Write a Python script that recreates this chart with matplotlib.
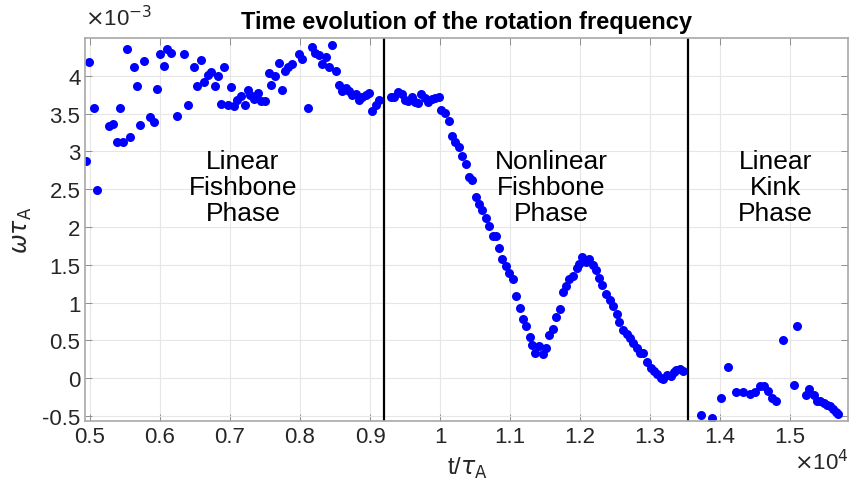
import matplotlib
matplotlib.use('Agg')
import matplotlib.pyplot as plt
from matplotlib.ticker import FormatStrFormatter

plt.rcParams['font.family'] = ['Liberation Sans', 'DejaVu Sans']
plt.rcParams['mathtext.fontset'] = 'dejavusans'

# time in units of 1e4 tau_A, omega*tau_A in units of 1e-3
t_data = [0.4943, 0.499, 0.505, 0.5095, 0.5276, 0.533, 0.538, 0.543, 0.5476, 0.553,
          0.5576, 0.5624, 0.567, 0.572, 0.577, 0.586, 0.591, 0.596, 0.6005, 0.6057,
          0.6104, 0.615, 0.6247, 0.6347, 0.6395, 0.6486, 0.653, 0.658, 0.663, 0.668,
          0.673, 0.678, 0.683, 0.6867, 0.692, 0.697, 0.702, 0.706, 0.7105, 0.716,
          0.721, 0.725, 0.729, 0.734, 0.7396, 0.744, 0.75, 0.755, 0.759, 0.764,
          0.7696, 0.774, 0.779, 0.783, 0.788, 0.7986, 0.8024, 0.812, 0.817, 0.821,
          0.827, 0.8314, 0.8367, 0.841, 0.846, 0.851, 0.8553, 0.8596, 0.8657, 0.870,
          0.8743, 0.8796, 0.8843, 0.8886, 0.894, 0.899, 0.903, 0.908, 0.913,
          0.930, 0.9343, 0.9396, 0.945, 0.950, 0.954, 0.9596, 0.964, 0.969, 0.973,
          0.978, 0.983, 0.9886, 0.993, 0.998, 1.002, 1.007, 1.013, 1.017, 1.022,
          1.027, 1.031, 1.0367, 1.041, 1.046, 1.0514, 1.055, 1.0596, 1.0657, 1.0704,
          1.076, 1.0804, 1.0843, 1.089, 1.094, 1.099, 1.104, 1.1086, 1.114, 1.118,
          1.1224, 1.128, 1.132, 1.136, 1.141, 1.1467, 1.152, 1.156, 1.161, 1.166,
          1.171, 1.175, 1.18, 1.184, 1.19, 1.195, 1.199, 1.203, 1.208, 1.213,
          1.218, 1.223, 1.227, 1.232, 1.237, 1.243, 1.2476, 1.2524, 1.256, 1.262,
          1.2667, 1.2714, 1.276, 1.281, 1.286, 1.2904, 1.295, 1.301, 1.306, 1.3104,
          1.315, 1.319, 1.324, 1.33, 1.334, 1.3376, 1.3424, 1.3476,
          1.3729, 1.389, 1.4019, 1.4119, 1.423, 1.4333, 1.4429, 1.45, 1.4571, 1.4633,
          1.469, 1.4747, 1.48, 1.4905, 1.5053, 1.5105, 1.5224, 1.527, 1.534, 1.538,
          1.543, 1.548, 1.5524, 1.557, 1.562, 1.566, 1.569]
w_data = [2.87, 4.18, 3.58, 2.49, 3.33, 3.36, 3.13, 3.58, 3.13, 4.35,
          3.19, 4.12, 3.87, 3.35, 4.20, 3.46, 3.39, 3.82, 4.29, 4.13,
          4.36, 4.30, 3.47, 4.29, 3.61, 4.12, 3.87, 4.21, 3.92, 4.01,
          4.05, 3.87, 4.00, 3.63, 4.12, 3.61, 3.85, 3.60, 3.68, 3.73,
          3.62, 3.81, 3.74, 3.69, 3.77, 3.67, 3.67, 4.04, 3.88, 4.00,
          4.17, 3.81, 4.06, 4.11, 4.16, 4.29, 4.22, 3.575, 4.38, 4.30,
          4.27, 4.15, 4.25, 4.11, 4.41, 4.07, 3.88, 3.80, 3.84, 3.80,
          3.75, 3.76, 3.68, 3.72, 3.75, 3.77, 3.54, 3.62, 3.68,
          3.72, 3.72, 3.79, 3.76, 3.68, 3.67, 3.72, 3.66, 3.64, 3.76,
          3.70, 3.65, 3.69, 3.71, 3.72, 3.55, 3.51, 3.40, 3.20, 3.13,
          3.06, 2.945, 2.84, 2.66, 2.62, 2.40, 2.31, 2.22, 2.12, 2.01,
          1.88, 1.88, 1.72, 1.58, 1.48, 1.39, 1.31, 1.085, 0.93, 0.78,
          0.69, 0.54, 0.44, 0.34, 0.43, 0.32, 0.40, 0.57, 0.65, 0.81,
          0.91, 1.14, 1.22, 1.31, 1.35, 1.455, 1.51, 1.61, 1.54, 1.58,
          1.50, 1.43, 1.33, 1.23, 1.12, 1.035, 0.95, 0.85, 0.75, 0.64,
          0.585, 0.53, 0.47, 0.40, 0.34, 0.335, 0.22, 0.13, 0.10, 0.06,
          0.01, -0.01, 0.04, 0.035, 0.08, 0.11, 0.12, 0.09,
          -0.49, -0.52, -0.26, 0.145, -0.18, -0.18, -0.21, -0.185, -0.106, -0.106,
          -0.17, -0.265, -0.295, 0.506, -0.09, 0.69, -0.22, -0.14, -0.217, -0.30,
          -0.296, -0.33, -0.35, -0.37, -0.406, -0.44, -0.476]

phase_bounds = [0.9204, 1.3547]
phase_names = ['Linear\nFishbone\nPhase', 'Nonlinear\nFishbone\nPhase', 'Linear\nKink\nPhase']
phase_x = [0.7186, 1.159, 1.4796]
phase_y = 2.53

x_ticks = [0.5, 0.6, 0.7, 0.8, 0.9, 1.0, 1.1, 1.2, 1.3, 1.4, 1.5]
y_ticks = [-0.5, 0, 0.5, 1, 1.5, 2, 2.5, 3, 3.5, 4]

fig = plt.figure(figsize=(8.5, 4.81), dpi=100)
ax = fig.add_axes([0.1004, 0.1227, 0.8978, 0.7962])

ax.plot(t_data, w_data, 'o', color='#0000ff', markersize=6.5, markeredgewidth=0)
for xb in phase_bounds:
    ax.axvline(xb, color='black', linewidth=1.6)
for name, xp in zip(phase_names, phase_x):
    ax.text(xp, phase_y, name, ha='center', va='center', fontsize=19, linespacing=1.12)

ax.set_xlim(0.4933, 1.5834)
ax.set_ylim(-0.565, 4.5)
ax.set_xticks(x_ticks)
ax.set_yticks(y_ticks)
ax.xaxis.set_major_formatter(FormatStrFormatter('%g'))
ax.yaxis.set_major_formatter(FormatStrFormatter('%g'))
ax.tick_params(direction='in', top=True, right=True, length=5, width=0.6,
               colors='#262626', labelsize=16, color='#808080')
for s in ax.spines.values():
    s.set_color('#a8a8a8')
    s.set_linewidth(1.2)
ax.grid(True, color='#e6e6e6', linewidth=0.8)
ax.set_axisbelow(True)

ax.set_title('Time evolution of the rotation frequency', fontsize=17, fontweight='bold', pad=7)
ax.set_xlabel(r't/$\tau_{\mathrm{A}}$', fontsize=17, color='#262626', labelpad=6)
ax.set_ylabel(r'$\omega\tau_{\mathrm{A}}$', fontsize=17, color='#262626', labelpad=6)

fig.text(0.1, 0.935, r'$\times$10$^{-3}$', fontsize=16, color='#262626', ha='left', va='bottom')
fig.text(0.998, 0.012, r'$\times$10$^{4}$', fontsize=16, color='#262626', ha='right', va='bottom')

fig.savefig('out.png', dpi=100)
